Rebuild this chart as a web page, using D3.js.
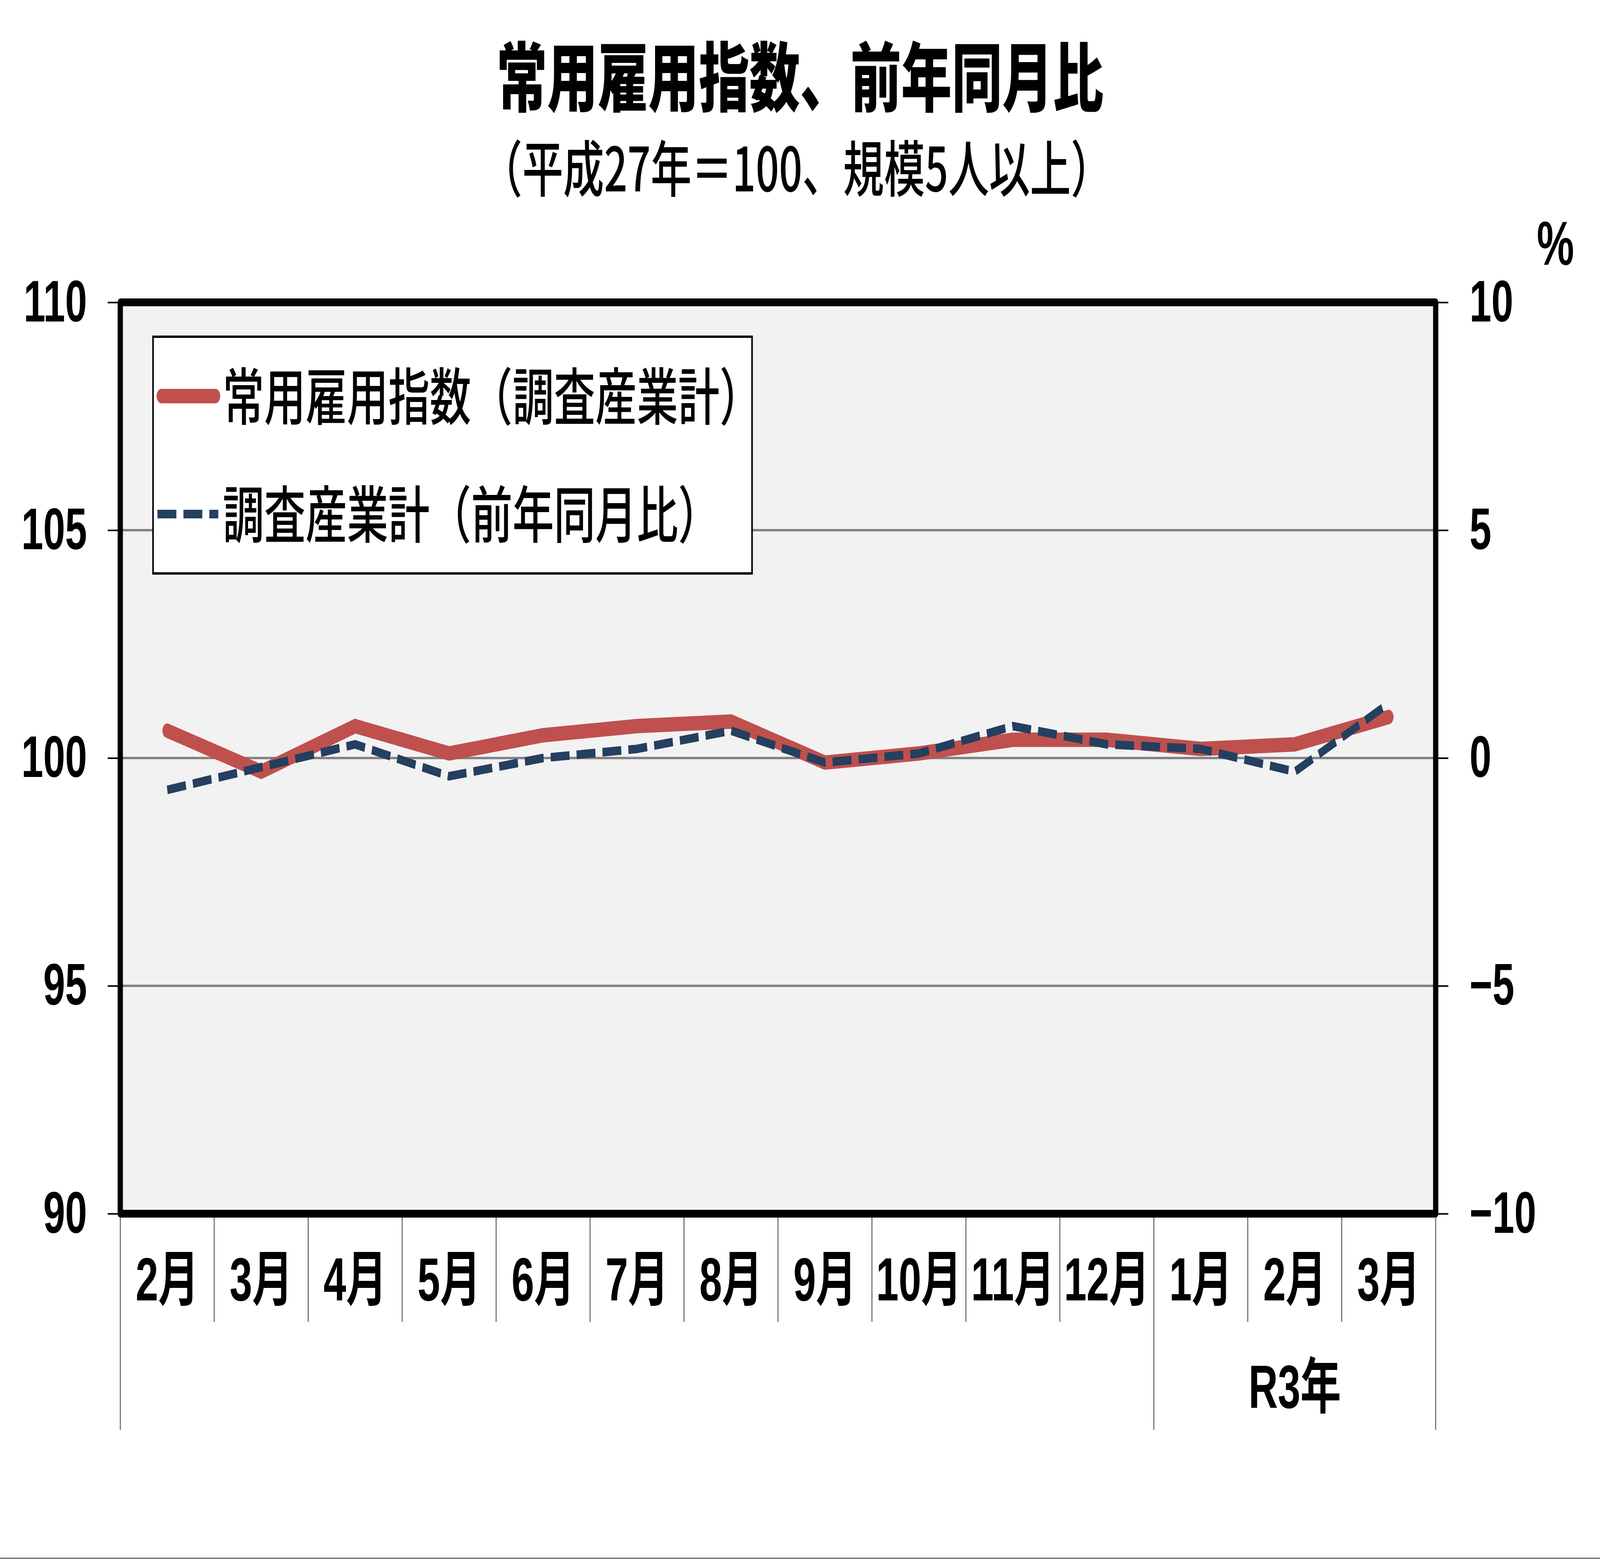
<!DOCTYPE html>
<html>
<head>
<meta charset="utf-8">
<script src="https://cdn.jsdelivr.net/npm/d3@7"></script>
<style>
  html, body { margin: 0; padding: 0; background: #fff; overflow: hidden; }
  svg { display: block; }
</style>
</head>
<body>
<div id="chart"></div>
<script>
// Data
var months = ['2月', '3月', '4月', '5月', '6月', '7月', '8月', '9月', '10月', '11月', '12月', '1月', '2月', '3月'];
var indexValues = [100.6, 99.7, 100.7, 100.1, 100.5, 100.7, 100.8, 99.9, 100.1, 100.4, 100.4, 100.2, 100.3, 100.9];
var yoyValues = [-0.7, -0.2, 0.3, -0.4, 0.0, 0.2, 0.6, -0.1, 0.1, 0.7, 0.3, 0.2, -0.3, 1.2];
var leftTicks = [90, 95, 100, 105, 110];
var rightTicks = [-10, -5, 0, 5, 10];
var yearLabel = 'R3年';
var legendNames = ['常用雇用指数（調査産業計）', '調査産業計（前年同月比）'];

var W = 6106, H = 3991;
var plotL = 459, plotR = 5479, plotT = 774, plotB = 3107;
var latin = "'Liberation Sans', Arial, 'Noto Sans CJK JP', sans-serif";
var cjk = "'Noto Sans CJK JP', sans-serif";
var red = '#c0504d', navy = '#243f60';

// drawn in a 6106 x 3991 coordinate space, stretched to the window
var svg = d3.select('#chart').append('svg')
    .attr('viewBox', '0 0 ' + W + ' ' + H)
    .attr('preserveAspectRatio', 'none')
    .style('width', '100vw')
    .style('height', '100vh');

var x = d3.scaleBand().domain(d3.range(months.length)).range([plotL, plotR]).padding(0);
var yL = d3.scaleLinear().domain([90, 110]).range([plotB, plotT]);
var yR = d3.scaleLinear().domain([-10, 10]).range([plotB, plotT]);
var cx = function(i) { return x(i) + x.bandwidth() / 2; };

// plot background
svg.append('rect')
    .attr('x', plotL).attr('y', plotT)
    .attr('width', plotR - plotL).attr('height', plotB - plotT)
    .attr('fill', '#f2f2f2');

// gridlines
svg.append('g').selectAll('line')
    .data([95, 100, 105])
    .enter().append('line')
    .attr('x1', plotL).attr('x2', plotR)
    .attr('y1', d => yL(d)).attr('y2', d => yL(d))
    .attr('stroke', '#808080')
    .attr('stroke-width', 6);

// axes
var axL = svg.append('g')
    .attr('transform', 'translate(' + plotL + ',0)')
    .call(d3.axisLeft(yL).tickValues(leftTicks).tickSize(48).tickPadding(79));
var axR = svg.append('g')
    .attr('transform', 'translate(' + plotR + ',0)')
    .call(d3.axisRight(yR).tickValues(rightTicks).tickSize(48).tickPadding(81)
        .tickFormat(d => d < 0 ? '\u2212' + Math.abs(d) : String(d)));
[axL, axR].forEach(function(ax) {
    ax.select('.domain').remove();
    ax.selectAll('.tick line').attr('stroke', '#000').attr('stroke-width', 4);
    ax.selectAll('.tick text')
        .style('font-family', latin)
        .style('font-weight', 700)
        .style('font-size', '150px')
        .attr('fill', '#000');
});

// series lines
var lineL = d3.line().x((d, i) => cx(i)).y(d => yL(d));
var lineR = d3.line().x((d, i) => cx(i)).y(d => yR(d));

svg.append('path')
    .datum(indexValues)
    .attr('d', lineL)
    .attr('fill', 'none')
    .attr('stroke', red)
    .attr('stroke-width', 37)
    .attr('stroke-linecap', 'round')
    .attr('stroke-linejoin', 'miter');

svg.append('path')
    .datum(yoyValues)
    .attr('d', lineR)
    .attr('fill', 'none')
    .attr('stroke', navy)
    .attr('stroke-width', 22)
    .attr('stroke-dasharray', '72,27')
    .attr('stroke-linejoin', 'miter');

// frame
svg.append('rect')
    .attr('x', plotL).attr('y', plotT)
    .attr('width', plotR - plotL).attr('height', plotB - plotT)
    .attr('fill', 'none')
    .attr('stroke', '#000')
    .attr('stroke-width', 20)
    .attr('stroke-linejoin', 'round');

// category separators
var step = x.step();
svg.append('g').selectAll('line')
    .data(d3.range(months.length + 1))
    .enter().append('line')
    .attr('x1', i => plotL + i * step).attr('x2', i => plotL + i * step)
    .attr('y1', plotB + 10)
    .attr('y2', i => (i === 0 || i === 11 || i === months.length) ? 3660 : 3384)
    .attr('stroke', '#404040')
    .attr('stroke-width', 3);

// month labels
svg.append('g').selectAll('text')
    .data(months)
    .enter().append('text')
    .attr('x', (d, i) => cx(i))
    .attr('y', 3329)
    .attr('text-anchor', 'middle')
    .style('font-family', latin)
    .style('font-weight', 700)
    .style('font-size', '155px')
    .text(d => d);

svg.append('text')
    .attr('x', (plotL + 11 * step + plotR) / 2)
    .attr('y', 3604)
    .attr('text-anchor', 'middle')
    .style('font-family', latin)
    .style('font-weight', 700)
    .style('font-size', '155px')
    .text(yearLabel);

// titles
svg.append('text')
    .attr('x', 3053).attr('y', 270)
    .attr('text-anchor', 'middle')
    .style('font-family', cjk)
    .style('font-weight', 900)
    .style('font-size', '193px')
    .text('常用雇用指数、前年同月比');

svg.append('text')
    .attr('x', 3040).attr('y', 490)
    .attr('text-anchor', 'middle')
    .style('font-family', cjk)
    .style('font-weight', 500)
    .style('font-size', '156px')
    .text('（平成27年＝100、規模5人以上）');

svg.append('text')
    .attr('x', 5936).attr('y', 678)
    .attr('text-anchor', 'middle')
    .style('font-family', latin)
    .style('font-weight', 700)
    .style('font-size', '160px')
    .text('%');

// legend
var lg = svg.append('g');
lg.append('rect')
    .attr('x', 584).attr('y', 862)
    .attr('width', 2286).attr('height', 606)
    .attr('fill', '#fff')
    .attr('stroke', '#000')
    .attr('stroke-width', 6);

lg.append('line')
    .attr('x1', 616).attr('x2', 822)
    .attr('y1', 1014).attr('y2', 1014)
    .attr('stroke', red)
    .attr('stroke-width', 37)
    .attr('stroke-linecap', 'round');

lg.append('line')
    .attr('x1', 601).attr('x2', 833)
    .attr('y1', 1316).attr('y2', 1316)
    .attr('stroke', navy)
    .attr('stroke-width', 22)
    .attr('stroke-dasharray', '72,27');

lg.selectAll('text.lab')
    .data(legendNames)
    .enter().append('text')
    .attr('class', 'lab')
    .attr('x', 850)
    .attr('y', (d, i) => i === 0 ? 1074 : 1376)
    .style('font-family', cjk)
    .style('font-weight', 500)
    .style('font-size', '158px')
    .text(d => d);

// bottom rule
svg.append('line')
    .attr('x1', 0).attr('x2', W)
    .attr('y1', 3989).attr('y2', 3989)
    .attr('stroke', '#666')
    .attr('stroke-width', 3);
</script>
</body>
</html>
